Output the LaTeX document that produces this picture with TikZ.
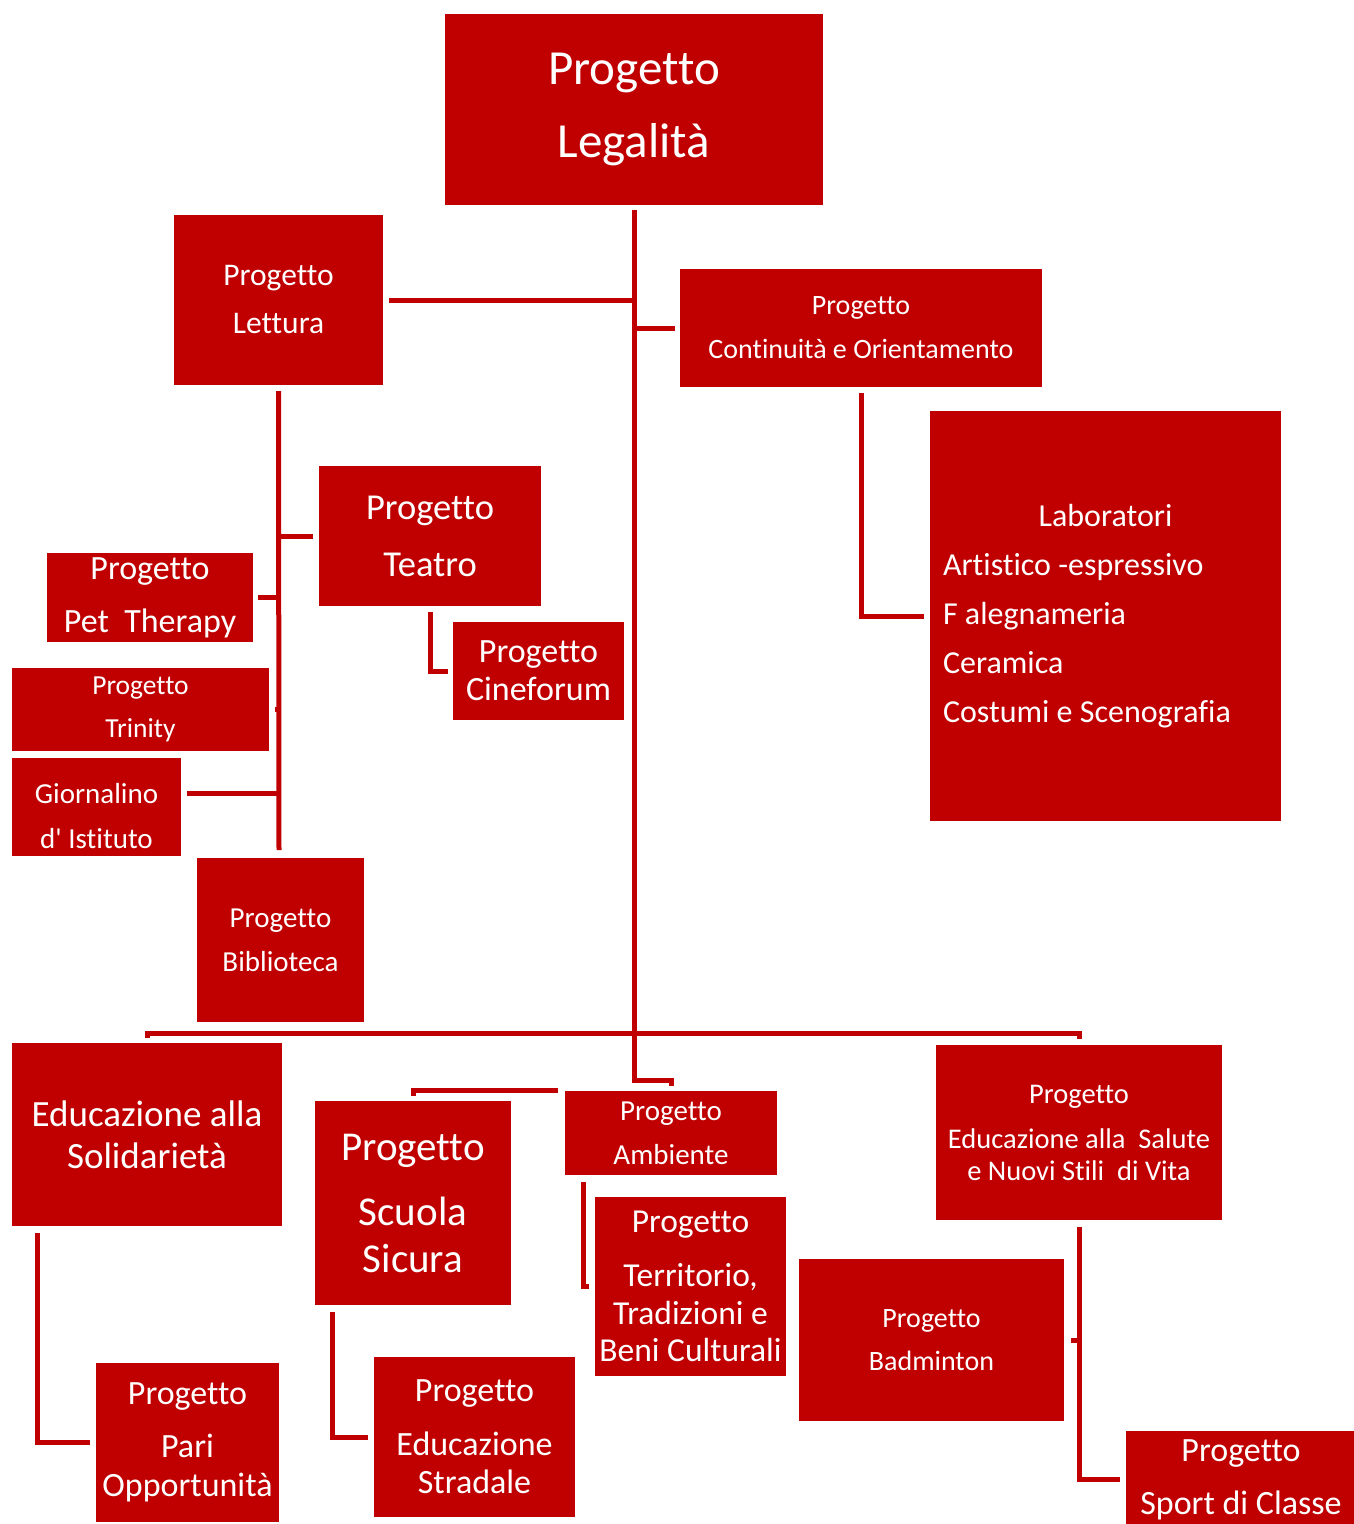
\documentclass[tikz,border=0pt]{standalone}
\usepackage{fontspec}
\setmainfont{Carlito}[Ligatures=CommonOff]
\usetikzlibrary{calc}
\definecolor{boxred}{HTML}{C00000}
\newcommand{\fsz}[2]{\fontsize{#1}{#2}\selectfont}

\begin{document}
\begin{tikzpicture}[x=1pt,y=1pt,yscale=-1,
    box/.style={fill=boxred, text=white, align=center, inner sep=0pt},
    link/.style={draw=boxred, line width=5pt}]

    \useasboundingbox (0,0) rectangle (1354,1524);

    \draw (634,109.5) node [box, minimum width=378, minimum height=191, font=\fsz{49}{73}] (legal) {Progetto\\Legalità};
    \draw (278.5,300) node [box, minimum width=209, minimum height=170, font=\fsz{31.5}{48}] (lett) {Progetto\\Lettura};
    \draw (861,328) node [box, minimum width=362, minimum height=118, font=\fsz{28}{44}] (cont) {Progetto\\Continuità e Orientamento};
    \draw (1105.5,616) node [box, minimum width=351, minimum height=410, text width=325, align=flush left, font=\fsz{32}{49}] (lab) {\makebox[325pt]{Laboratori}\\Artistico -espressivo\\F alegnameria\\Ceramica\\Costumi e Scenografia};
    \draw (430,536) node [box, minimum width=222, minimum height=140, font=\fsz{36.5}{57}] (teat) {Progetto\\Teatro};
    \draw (150,597.5) node [box, minimum width=206, minimum height=89, font=\fsz{34}{53}] (pet) {Progetto\\Pet\ \ Therapy};
    \draw (538.5,671) node [box, minimum width=171, minimum height=98, font=\fsz{34}{38}] (cine) {Progetto\\Cineforum};
    \draw (140.5,709.5) node [box, minimum width=257, minimum height=83, font=\fsz{27.5}{43}] (trin) {Progetto\\Trinity};
    \draw (96.5,807) node [box, minimum width=169, minimum height=98, font=\fsz{29}{45}] (gior) {\rule{0pt}{38pt}Giornalino\\d\textquotesingle{} Istituto};
    \draw (280.5,940) node [box, minimum width=167, minimum height=164, font=\fsz{29}{44}] (bibl) {Progetto\\Biblioteca};

    \draw (147,1134.5) node [box, minimum width=270, minimum height=183, font=\fsz{37}{42}] (solid) {Educazione alla\\Solidarietà};
    \draw (413,1203) node [box, minimum width=196, minimum height=204, font=\fsz{41}{47}] (scuola) {Progetto\\[18pt]Scuola\\Sicura};
    \draw (671,1133) node [box, minimum width=212, minimum height=84, font=\fsz{29}{44}] (amb) {Progetto\\Ambiente};
    \draw (690.5,1286.5) node [box, minimum width=191, minimum height=179, font=\fsz{33.5}{37.5}] (terr) {Progetto\\[16.5pt]Territorio,\\Tradizioni e\\Beni Culturali};
    \draw (1079,1132.5) node [box, minimum width=286, minimum height=175, font=\fsz{28.5}{32}] (sal) {Progetto\\[13pt]Educazione alla\ \ Salute\\e Nuovi Stili\ \ di Vita};
    \draw (931.5,1340) node [box, minimum width=265, minimum height=162, font=\fsz{28}{43}] (bad) {Progetto\\Badminton};
    \draw (187.5,1442.5) node [box, minimum width=183, minimum height=159, font=\fsz{34}{39}] (pari) {Progetto\\[14pt]Pari\\Opportunità};
    \draw (474.5,1437) node [box, minimum width=201, minimum height=160, font=\fsz{34}{38}] (strad) {Progetto\\[16pt]Educazione\\Stradale};
    \draw (1241,1479.5) node [box, minimum width=230, minimum height=97, font=\fsz{34}{53}] (sport) {Progetto\\Sport di Classe};

    \coordinate (hub) at (634,1033);
    \coordinate (ambj) at (634,1080);
    \coordinate (lettend) at (279,850);

    \draw [link, shorten <=5pt, shorten >=5pt] (legal.south) -- (ambj) -| (amb.north);
    \draw [link, shorten <=6pt] (lett.east) -- (lett.east -| legal.south);
    \draw [link, shorten >=5pt] (cont.west -| legal.south) -- (cont.west);
    \draw [link, shorten <=6pt, shorten >=6pt] (cont.south) |- (lab.west);

    \draw [link, shorten <=6pt] (lett.south) -- (lettend);
    \draw [link, shorten >=6pt] (teat.west -| lett.south) -- (teat.west);
    \draw [link, shorten <=5pt] (pet.east) -- (pet.east -| lett.south);
    \draw [link, shorten <=6pt] (trin.east) -- (trin.east -| lett.south);
    \draw [link, shorten <=6pt] ($(gior.east)+(0,-14)$) coordinate (gj) -- (gj -| lett.south);
    \draw [link, shorten <=6pt, shorten >=5pt] (teat.south) |- (cine.west);

    \draw [link, shorten <=5pt, shorten >=6pt] (solid.north) |- (hub) -| (sal.north);
    \draw [link, shorten <=5pt, shorten >=7pt] (scuola.north) |- (amb.north west);
    \draw [link, shorten <=7pt, shorten >=6pt] ($(solid.south west)+(26,0)$) |- (pari.west);
    \draw [link, shorten <=7pt, shorten >=6pt] ($(scuola.south west)+(18,0)$) |- (strad.west);
    \draw [link, shorten <=7pt, shorten >=6pt] ($(amb.south west)+(19,0)$) |- (terr.west);
    \draw [link, shorten <=7pt, shorten >=6pt] (sal.south) |- (sport.west);
    \draw [link, shorten <=7pt] (bad.east) -- (bad.east -| sal.south);

\end{tikzpicture}
\end{document}
